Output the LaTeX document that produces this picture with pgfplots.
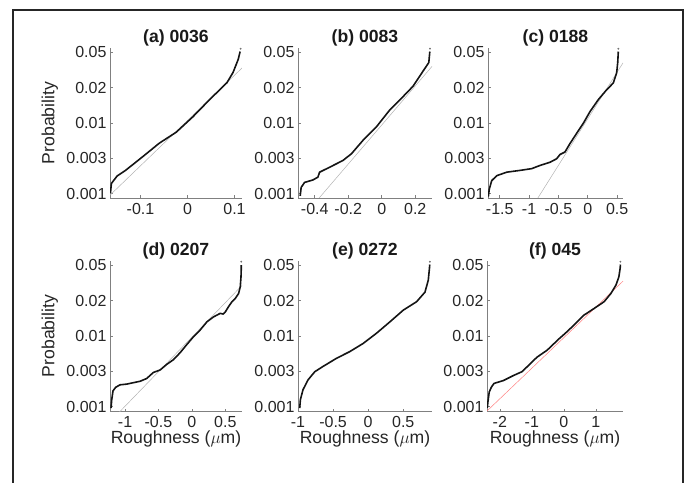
\documentclass[border=0pt]{standalone}
\usepackage{pgfplots}
\pgfplotsset{compat=1.18}
\usepackage{fontspec}
\setmainfont{Liberation Sans}

% y positions are tick indices: 0=0.001, 1=0.003, 2=0.01, 3=0.02, 4=0.05
\pgfplotsset{
  panel/.style={
    scale only axis, height=150pt, anchor=south west,
    axis x line*=bottom, axis y line*=left,
    axis line style={black!50, line width=0.8pt},
    ymin=-0.12, ymax=4.12,
    ytick={0,1,2,3,4}, yticklabels={0.001,0.003,0.01,0.02,0.05},
    tick style={black!50, line width=0.6pt},
    major tick length=2.5pt, tick align=inside,
    ticklabel style={font=\fontsize{16}{18}\selectfont, text=black!85},
    xticklabel style={yshift=-2pt},
    title style={font=\bfseries\fontsize{17.6}{20}\selectfont, text=black!90,
      at={(axis description cs:0.5,1)}, anchor=south, inner sep=0pt, yshift=-4pt},
    every axis y label/.style={at={(axis description cs:-0.455,0.5)}, rotate=90,
      anchor=center, font=\fontsize{17.6}{20}\selectfont, text=black!85},
    every axis x label/.style={at={(axis description cs:0.5,0)}, anchor=center,
      yshift=-28pt, font=\fontsize{17.6}{20}\selectfont, text=black!85},
  },
  curve/.style={black!92, line width=1.6pt, no marks, line join=round},
  refline/.style={black!30, line width=0.5pt, no marks},
  enddot/.style={only marks, mark=*, mark size=0.7pt, black!55},
}

\begin{document}
\begin{tikzpicture}
\useasboundingbox (0pt,0pt) rectangle (690pt,482pt);
\draw[black!85, line width=1.4pt] (13pt,-2pt) -- (13pt,472pt) -- (683pt,472pt) -- (683pt,-2pt);

% (a)
\begin{axis}[panel, at={(110pt,284pt)}, width=132pt,
  xmin=-0.165, xmax=0.116, xtick={-0.1,0,0.1}, xticklabels={-0.1,0,0.1},
  title={(a) 0036}, ylabel={Probability}]
\addplot[refline] coordinates {(-0.165,-0.04) (0.118,3.58)};
\addplot[curve] coordinates {
  (-0.164,0.02) (-0.162,0.29) (-0.150,0.50) (-0.132,0.66) (-0.097,1.03)
  (-0.060,1.43) (-0.024,1.74) (0.011,2.17) (0.047,2.66) (0.084,3.14)
  (0.097,3.43) (0.108,3.80) (0.112,4.02)};
\addplot[enddot] coordinates {(0.113,4.10)};
\end{axis}

% (b)
\begin{axis}[panel, at={(298pt,284pt)}, width=134pt,
  xmin=-0.5, xmax=0.3, xtick={-0.4,-0.2,0,0.2}, xticklabels={-0.4,-0.2,0,0.2},
  title={(b) 0083}]
\addplot[refline] coordinates {(-0.39,-0.21) (0.3,3.60)};
\addplot[curve] coordinates {
  (-0.487,-0.06) (-0.481,0.18) (-0.461,0.32) (-0.411,0.39) (-0.381,0.47)
  (-0.371,0.61) (-0.311,0.75) (-0.232,0.94) (-0.181,1.13) (-0.112,1.51)
  (-0.032,1.89) (0.048,2.37) (0.128,2.75) (0.187,3.04) (0.247,3.47)
  (0.281,3.71) (0.287,4.02)};
\addplot[enddot] coordinates {(0.288,4.10)};
\end{axis}

% (c)
\begin{axis}[panel, at={(488pt,284pt)}, width=135pt,
  xmin=-1.7, xmax=0.6, xtick={-1.5,-1,-0.5,0,0.5}, xticklabels={-1.5,-1,-0.5,0,0.5},
  title={(c) 0188}]
\addplot[refline] coordinates {(-0.9,-0.25) (0.6,3.70)};
\addplot[curve] coordinates {
  (-1.695,-0.08) (-1.678,0.13) (-1.637,0.37) (-1.552,0.51) (-1.381,0.61)
  (-1.155,0.66) (-0.956,0.71) (-0.814,0.80) (-0.644,0.89) (-0.530,0.99)
  (-0.473,1.11) (-0.389,1.18) (-0.303,1.42) (-0.189,1.71) (-0.077,1.99)
  (0.037,2.32) (0.179,2.66) (0.322,2.94) (0.435,3.13) (0.492,3.42)
  (0.510,3.71) (0.520,4.02)};
\addplot[enddot] coordinates {(0.521,4.10)};
\end{axis}

% (d)
\begin{axis}[panel, at={(110pt,71pt)}, width=132pt,
  xmin=-1.225, xmax=0.75, xtick={-1,-0.5,0,0.5}, xticklabels={-1,-0.5,0,0.5},
  title={(d) 0207}, ylabel={Probability}, xlabel={Roughness ($\mu$m)}]
\addplot[refline] coordinates {(-1.12,-0.22) (0.75,3.43)};
\addplot[curve] coordinates {
  (-1.210,-0.04) (-1.199,0.20) (-1.18,0.45) (-1.14,0.55) (-1.075,0.62)
  (-0.975,0.64) (-0.876,0.68) (-0.775,0.72) (-0.675,0.80) (-0.576,0.97)
  (-0.475,1.04) (-0.375,1.20) (-0.276,1.33) (-0.175,1.53) (-0.075,1.76)
  (0.024,1.98) (0.124,2.17) (0.225,2.40) (0.324,2.54) (0.424,2.64)
  (0.47,2.62) (0.50,2.68) (0.549,2.83) (0.600,2.97) (0.649,3.06)
  (0.699,3.20) (0.724,3.39) (0.735,3.67) (0.739,3.91) (0.739,4.0)};
\addplot[enddot] coordinates {(0.739,4.10)};
\end{axis}

% (e)
\begin{axis}[panel, at={(298pt,71pt)}, width=134pt,
  xmin=-1.0, xmax=0.91, xtick={-1,-0.5,0,0.5}, xticklabels={-1,-0.5,0,0.5},
  title={(e) 0272}, xlabel={Roughness ($\mu$m)}]
\addplot[curve] coordinates {
  (-0.976,-0.04) (-0.966,0.20) (-0.929,0.48) (-0.857,0.76) (-0.761,0.99)
  (-0.643,1.14) (-0.451,1.37) (-0.261,1.56) (-0.071,1.79) (0.120,2.08)
  (0.310,2.40) (0.500,2.73) (0.691,2.97) (0.810,3.24) (0.857,3.58)
  (0.874,3.92) (0.878,4.02)};
\addplot[enddot] coordinates {(0.880,4.10)};
\end{axis}

% (f)
\begin{axis}[panel, at={(487pt,71pt)}, width=136pt,
  xmin=-2.4, xmax=1.85, xtick={-2,-1,0,1}, xticklabels={-2,-1,0,1},
  title={(f) 045}, xlabel={Roughness ($\mu$m)}]
\addplot[red!50!white, line width=0.5pt, no marks] coordinates {(-2.4,-0.12) (1.85,3.55)};
\addplot[curve] coordinates {
  (-2.39,-0.03) (-2.37,0.15) (-2.33,0.42) (-2.26,0.56) (-2.18,0.66)
  (-1.89,0.74) (-1.58,0.88) (-1.31,0.99) (-1.10,1.17) (-0.84,1.40)
  (-0.52,1.60) (-0.15,1.92) (0.05,2.08) (0.32,2.31) (0.63,2.59)
  (0.95,2.78) (1.26,2.97) (1.47,3.20) (1.63,3.44) (1.72,3.67)
  (1.76,3.91) (1.77,4.02)};
\addplot[enddot] coordinates {(1.77,4.10)};
\end{axis}
\end{tikzpicture}
\end{document}
